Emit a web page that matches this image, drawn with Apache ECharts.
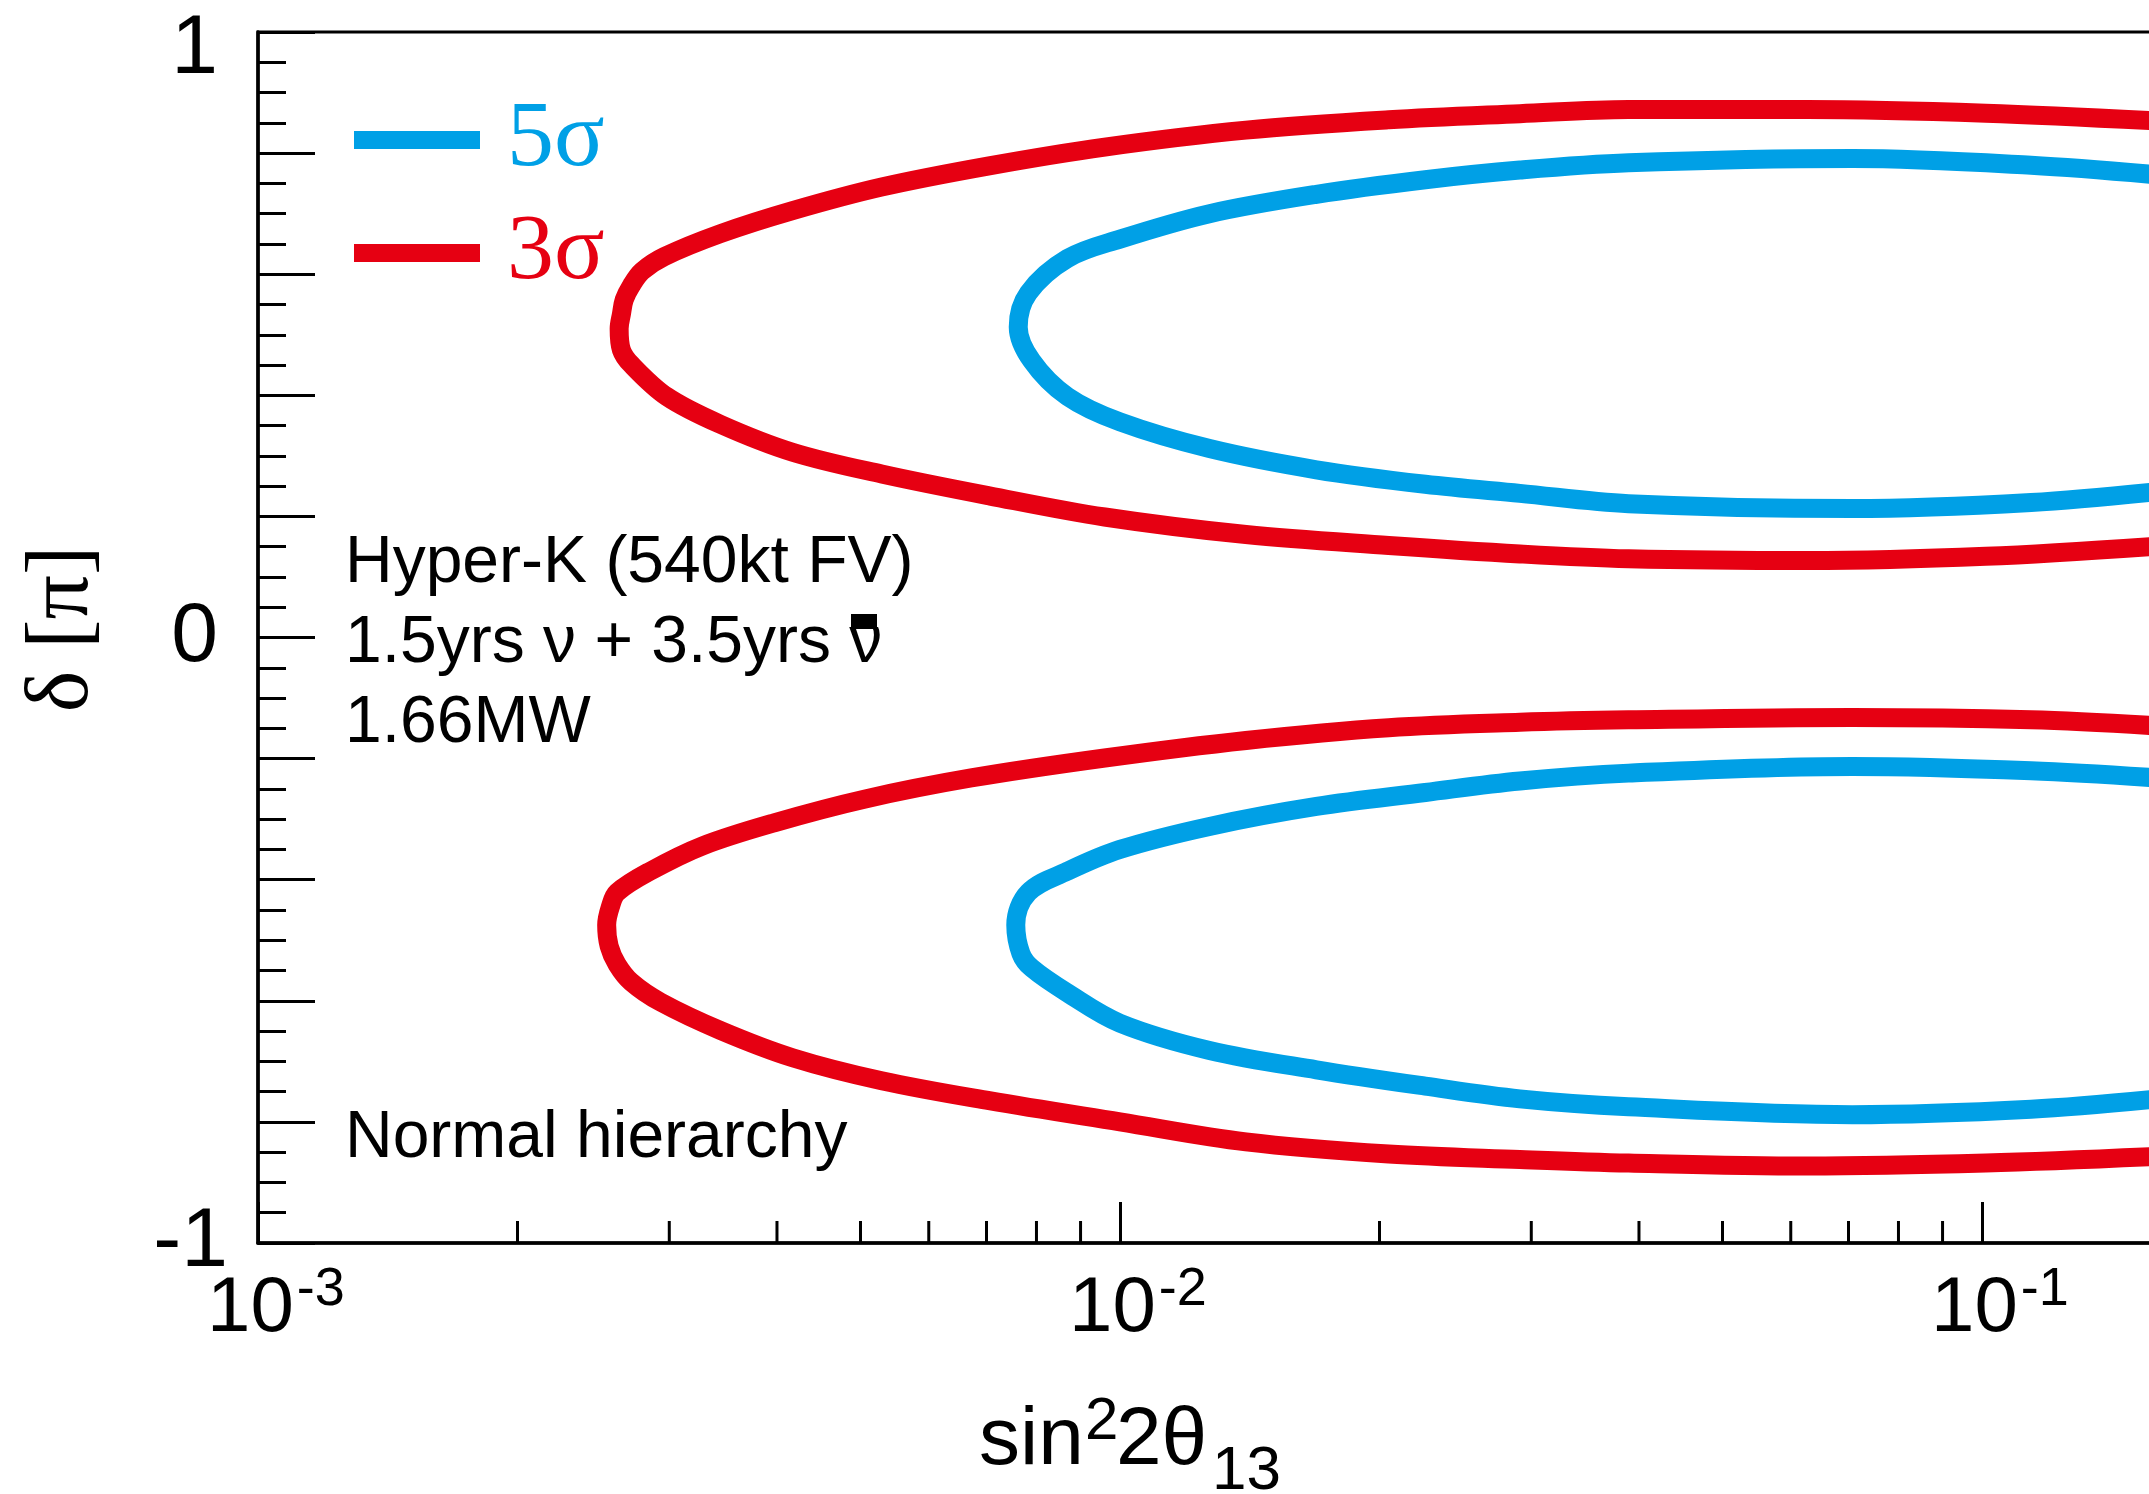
<!DOCTYPE html>
<html>
<head>
<meta charset="utf-8">
<title>Hyper-K CPV sensitivity</title>
<script src="https://cdn.jsdelivr.net/npm/echarts@6.0.0/dist/echarts.min.js"></script>
<style>
  html, body { margin: 0; padding: 0; background: #fff; }
  #main { width: 2149px; height: 1494px; }
</style>
</head>
<body>
<div id="main"></div>
<script>
// 3 sigma, upper lobe (delta > 0): top branch right->left, tip, bottom branch left->right
var sig3UpS = [0.16, 0.101, 0.0627, 0.0389, 0.0291, 0.0205, 0.014, 0.0096, 0.00705, 0.00529, 0.00417, 0.00344, 0.00296, 0.00279, 0.00271, 0.00266, 0.00264, 0.002624, 0.00264, 0.00271, 0.00298, 0.00344, 0.00417, 0.00529, 0.00705, 0.0096, 0.014, 0.0205, 0.0291, 0.0389, 0.0627, 0.101, 0.16];
var sig3UpD = [0.853, 0.866, 0.872, 0.872, 0.865, 0.855, 0.838, 0.810, 0.779, 0.744, 0.705, 0.667, 0.629, 0.605, 0.581, 0.558, 0.534, 0.510, 0.475, 0.451, 0.398, 0.352, 0.306, 0.270, 0.234, 0.199, 0.170, 0.152, 0.138, 0.130, 0.127, 0.134, 0.151];

// 5 sigma, upper lobe
var sig5UpS = [0.16, 0.114, 0.0707, 0.0389, 0.0291, 0.0226, 0.0169, 0.0127, 0.0100, 0.00869, 0.00783, 0.00762, 0.0079, 0.00869, 0.0100, 0.0127, 0.0169, 0.0226, 0.0291, 0.0389, 0.0707, 0.114, 0.16];
var sig5UpD = [0.764, 0.780, 0.791, 0.784, 0.772, 0.756, 0.732, 0.700, 0.658, 0.626, 0.569, 0.513, 0.457, 0.398, 0.356, 0.312, 0.277, 0.253, 0.238, 0.221, 0.213, 0.223, 0.241];

// 3 sigma, lower lobe (delta < 0)
var sig3LoS = [0.16, 0.114, 0.0707, 0.0389, 0.0291, 0.0205, 0.014, 0.0096, 0.00672, 0.00505, 0.00397, 0.00328, 0.00285, 0.00261, 0.002563, 0.002538, 0.002555, 0.00261, 0.00271, 0.00293, 0.00344, 0.00417, 0.00529, 0.00705, 0.0100, 0.014, 0.0205, 0.0291, 0.0389, 0.0627, 0.101, 0.16];
var sig3LoD = [-0.146, -0.136, -0.132, -0.136, -0.140, -0.149, -0.170, -0.199, -0.232, -0.267, -0.306, -0.344, -0.386, -0.421, -0.445, -0.475, -0.510, -0.540, -0.569, -0.602, -0.649, -0.694, -0.732, -0.765, -0.800, -0.833, -0.853, -0.862, -0.868, -0.873, -0.868, -0.857];

// 5 sigma, lower lobe
var sig5LoS = [0.16, 0.114, 0.0707, 0.0389, 0.0291, 0.0226, 0.0169, 0.0127, 0.0100, 0.00869, 0.00783, 0.00757, 0.007675, 0.0079, 0.00869, 0.0100, 0.0127, 0.0169, 0.0226, 0.0291, 0.0389, 0.0707, 0.114, 0.16];
var sig5LoD = [-0.232, -0.220, -0.213, -0.224, -0.237, -0.256, -0.279, -0.312, -0.350, -0.386, -0.421, -0.475, -0.522, -0.546, -0.587, -0.637, -0.682, -0.714, -0.741, -0.762, -0.775, -0.788, -0.779, -0.762];

// minor ticks of the log x axis (2..9 x 10^k)
var xMinorTicks = [0.002, 0.003, 0.004, 0.005, 0.006, 0.007, 0.008, 0.009,
                   0.02, 0.03, 0.04, 0.05, 0.06, 0.07, 0.08, 0.09,
                   0.2, 0.3, 0.4, 0.5, 0.6, 0.7, 0.8, 0.9];
// y tick values that get a label
var yLabelValues = [-1, 0, 1];

var blue = '#00A0E6';
var red = '#E60012';
var sans = '"Liberation Sans", Arial, Helvetica, sans-serif';
var serif = '"Liberation Serif", "Times New Roman", serif';

function zip(xs, ys) {
    return xs.map(function (x, i) { return [x, ys[i]]; });
}

function contour(name, color, xs, ys) {
    return {
        name: name,
        type: 'line',
        data: zip(xs, ys),
        showSymbol: false,
        symbol: 'none',
        smooth: 0.35,
        clip: true,
        itemStyle: { color: color },
        lineStyle: { color: color, width: 19, cap: 'butt', join: 'round' },
        silent: true,
        z: 3
    };
}

// plain text placed by its bounding-box top-left corner
function label(text, left, top, size, family) {
    return {
        type: 'text', left: left, top: top, silent: true,
        style: { text: text, font: size + 'px ' + (family || sans), fill: '#000' }
    };
}

var myChart = echarts.init(document.getElementById('main'), null, { renderer: 'canvas' });

var option = {
    animation: false,
    backgroundColor: '#fff',
    grid: {
        left: 258,
        top: 32,
        bottom: 251,
        right: -695,   // axis runs on to 10^0, past the picture's right edge
        outerBoundsMode: 'none',
        containLabel: false,
        show: true,
        borderColor: '#000',
        borderWidth: 3,
        backgroundColor: 'transparent'
    },
    legend: {
        orient: 'vertical',
        left: 354,
        top: 93,
        padding: 0,
        itemWidth: 126,
        itemHeight: 18,
        itemGap: 19,
        icon: 'rect',
        selectedMode: false,
        textStyle: {
            fontFamily: serif,
            fontSize: 94,
            lineHeight: 94,
            padding: [0, 0, 0, 22]
        },
        data: [
            { name: '5σ', textStyle: { color: blue } },
            { name: '3σ', textStyle: { color: red } }
        ]
    },
    xAxis: {
        type: 'log',
        logBase: 10,
        min: 0.001,
        max: 1,
        axisLine: { onZero: false, lineStyle: { color: '#000', width: 3.5 } },
        axisTick: { inside: true, length: 41, lineStyle: { color: '#000', width: 3 } },
        splitLine: { show: false },
        axisLabel: {
            margin: 20,
            color: '#000',
            formatter: function (v) {
                var e = Math.round(Math.log(v) / Math.LN10);
                return '{a|10}{e|' + e + '}';
            },
            rich: {
                a: { fontFamily: sans, fontSize: 78, lineHeight: 78, padding: [7, 0, 0, 36], verticalAlign: 'top', color: '#000' },
                e: { fontFamily: sans, fontSize: 54, lineHeight: 54, padding: [0, 0, 0, 3], verticalAlign: 'top', color: '#000' }
            }
        }
    },
    yAxis: {
        type: 'value',
        min: -1,
        max: 1,
        interval: 0.2,
        axisLine: { onZero: false, lineStyle: { color: '#000', width: 3.5 } },
        axisTick: { inside: true, length: 57, lineStyle: { color: '#000', width: 3 } },
        minorTick: { show: true, splitNumber: 4, length: 28, lineStyle: { color: '#000', width: 3 } },
        splitLine: { show: false },
        minorSplitLine: { show: false },
        axisLabel: {
            margin: 40,
            color: '#000',
            fontFamily: sans,
            fontSize: 84,
            showMinLabel: true,
            showMaxLabel: true,
            formatter: function (v) {
                for (var i = 0; i < yLabelValues.length; i++) {
                    if (Math.abs(v - yLabelValues[i]) < 1e-6) {
                        if (yLabelValues[i] === 1) return '{t|1}';
                        if (yLabelValues[i] === -1) return '{n|-1}';
                        return String(yLabelValues[i]);
                    }
                }
                return '';
            },
            rich: {
                t: { fontFamily: sans, fontSize: 84, padding: [36, 0, 0, 0], color: '#000' },
                n: { fontFamily: sans, fontSize: 84, padding: [0, -10, 0, 0], color: '#000' }
            }
        }
    },
    series: [
        contour('3σ', red, sig3UpS, sig3UpD),
        contour('3σ', red, sig3LoS, sig3LoD),
        contour('5σ', blue, sig5UpS, sig5UpD),
        contour('5σ', blue, sig5LoS, sig5LoD),
        {
            // minor ticks on the log axis, placed through the axis scale
            name: 'minorTicks',
            type: 'custom',
            silent: true,
            data: xMinorTicks.map(function (v) { return [v, -1]; }),
            encode: { x: 0, y: 1 },
            renderItem: function (params, api) {
                var p = api.coord([api.value(0), api.value(1)]);
                return {
                    type: 'line',
                    shape: { x1: p[0], y1: p[1], x2: p[0], y2: p[1] - 22 },
                    style: { stroke: '#000', lineWidth: 3 }
                };
            },
            z: 4
        }
    ],
    graphic: [
        label('Hyper-K (540kt FV)', 345, 531, 66),
        label('1.5yrs ν + 3.5yrs ν', 345, 611, 66),
        // the bar over the anti-neutrino, drawn as a block like the original
        { type: 'rect', silent: true, shape: { x: 851, y: 614, width: 26, height: 15 }, style: { fill: '#000' } },
        label('1.66MW', 345, 691, 66),
        label('Normal hierarchy', 345, 1106, 66),
        // x axis title: sin^2 2theta_13
        label('sin', 979, 1400, 82),
        label('2', 1085, 1392, 60),
        label('2θ', 1116, 1400, 82),
        label('13', 1212, 1441, 62),
        {
            // y axis title
            type: 'text', x: 64, y: 629, rotation: Math.PI / 2, silent: true,
            style: { text: 'δ [π]', font: '88px ' + serif, fill: '#000', align: 'center', verticalAlign: 'middle' }
        }
    ]
};

myChart.setOption(option);
</script>
</body>
</html>
